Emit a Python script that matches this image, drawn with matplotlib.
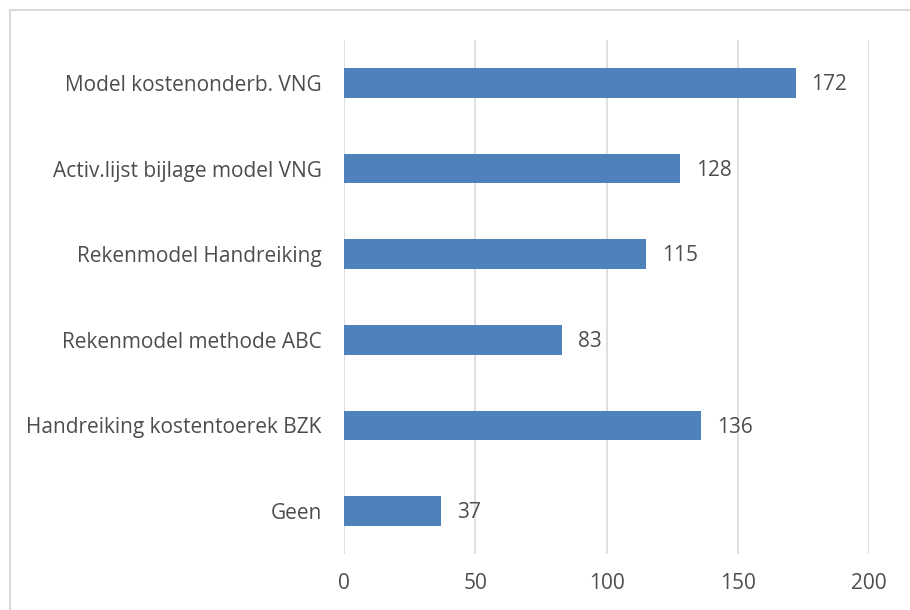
import matplotlib.pyplot as plt
from matplotlib.lines import Line2D

categories = ['Geen', 'Handreiking kostentoerek BZK', 'Rekenmodel methode ABC',
              'Rekenmodel Handreiking', 'Activ.lijst bijlage model VNG',
              'Model kostenonderb. VNG']
values = [37, 136, 83, 115, 128, 172]
xticks = [0, 50, 100, 150, 200]

plt.rcParams['font.family'] = ['Open Sans', 'DejaVu Sans']
txt = '#4D4D4D'

fig = plt.figure(figsize=(9.1, 6.1), dpi=100)
ax = fig.add_axes([344/910, 56/610, 525/910, 514/610])

pos = range(len(categories))
ax.barh(pos, values, height=0.35, color='#4F81BD', zorder=3)
for p, v in zip(pos, values):
    ax.text(v + 6, p - 0.02, str(v), va='center', ha='left', fontsize=15, color=txt)

ax.set_xlim(0, 200)
ax.set_ylim(-0.5, len(categories) - 0.5)
ax.set_xticks(xticks)
ax.set_yticks(list(pos))
ax.set_yticklabels(categories)
ax.grid(axis='x', color='#D9D9D9', linewidth=1.2, zorder=0)
for s in ax.spines.values():
    s.set_visible(False)
ax.tick_params(length=0, labelsize=15, colors=txt)
ax.tick_params(axis='y', pad=16)
ax.tick_params(axis='x', pad=14)

# chart border
fig.add_artist(Line2D([10/910, 10/910], [0, 600/610], color='#D9D9D9', lw=1.5))
fig.add_artist(Line2D([10/910, 1], [600/610, 600/610], color='#D9D9D9', lw=1.5))

fig.savefig('out.png', dpi=100)
